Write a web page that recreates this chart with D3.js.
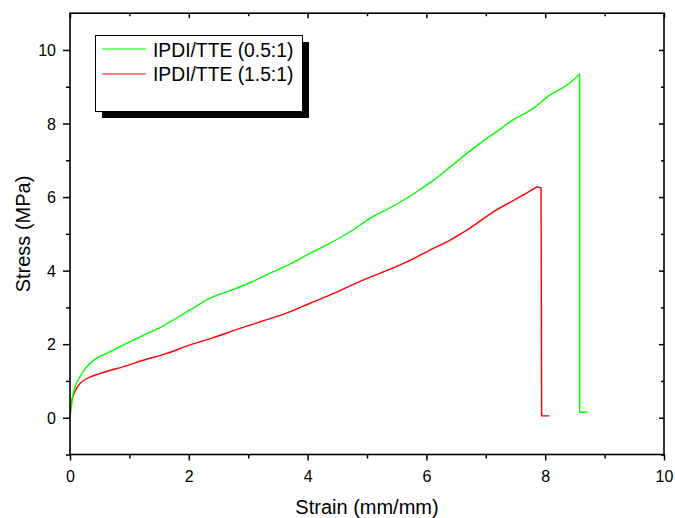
<!DOCTYPE html>
<html><head><meta charset="utf-8">
<script src="https://cdn.jsdelivr.net/npm/d3@7"></script>
<style>body{margin:0;background:#fff}svg{display:block}text{font-family:Arial,"Liberation Sans",sans-serif;fill:#000}</style>
</head><body><svg id="c" width="675" height="518"></svg>
<script>
const seriesNames = ["IPDI/TTE (0.5:1)", "IPDI/TTE (1.5:1)"];
const seriesColors = ["#00ff00", "#ff0000"];
const greenX = [0, 0.015, 0.03, 0.056, 0.1, 0.17, 0.25, 0.34, 0.45, 0.62, 0.9, 1.18, 1.57, 2.02, 2.36, 2.69, 3.0, 3.37, 3.7, 4.04, 4.38, 4.71, 5.05, 5.39, 5.75, 6.12, 6.5, 6.9, 7.2, 7.46, 7.8, 8.08, 8.25, 8.45, 8.58, 8.58, 8.71];
const greenY = [0, 0.2, 0.38, 0.66, 0.9, 1.12, 1.32, 1.48, 1.62, 1.75, 1.98, 2.2, 2.5, 2.93, 3.25, 3.45, 3.65, 3.93, 4.18, 4.47, 4.75, 5.05, 5.42, 5.71, 6.05, 6.46, 6.95, 7.46, 7.8, 8.1, 8.41, 8.78, 8.93, 9.15, 9.35, 0.15, 0.15];
const redX = [0, 0.01, 0.03, 0.07, 0.11, 0.18, 0.28, 0.5, 0.9, 1.25, 1.63, 2.02, 2.4, 2.86, 3.3, 3.7, 4.05, 4.38, 4.94, 5.39, 5.75, 6.06, 6.4, 6.68, 7.18, 7.58, 7.86, 7.93, 7.94, 8.07];
const redY = [0, 0.25, 0.48, 0.66, 0.8, 0.95, 1.06, 1.2, 1.39, 1.57, 1.75, 1.98, 2.17, 2.43, 2.66, 2.88, 3.12, 3.34, 3.75, 4.04, 4.3, 4.56, 4.83, 5.1, 5.65, 6.01, 6.28, 6.25, 0.05, 0.05];
const xMajorTicks = [0, 2, 4, 6, 8, 10];
const yMajorTicks = [0, 2, 4, 6, 8, 10];
const xMinorTicks = [1, 3, 5, 7, 9];
const yMinorTicks = [-1, 1, 3, 5, 7, 9];
const xTitle = "Strain (mm/mm)";
const yTitle = "Stress (MPa)";

const svg = d3.select("#c");
const L = 70, R = 664, T = 13.2, B = 454.5;
const x = d3.scaleLinear().domain([0, 10]).range([L, R]);
const y = d3.scaleLinear().domain([-1, 11]).range([B, T]);

const series = [
  {name: seriesNames[0], color: seriesColors[0], pts: greenX.map((v, i) => [v, greenY[i]])},
  {name: seriesNames[1], color: seriesColors[1], pts: redX.map((v, i) => [v, redY[i]])}
];
const smooth = d3.line().x(d => x(d[0])).y(d => y(d[1])).curve(d3.curveMonotoneX);
const straight = d3.line().x(d => x(d[0])).y(d => y(d[1]));
series.slice().reverse().forEach(s => {
  // rising part: up to the peak (max stress); then the fracture drop drawn straight
  let pk = d3.maxIndex(s.pts, d => d[1]);
  const rise = s.pts.slice(0, pk + 1);
  // keep strictly increasing x in the smooth part
  const drop = s.pts.slice(pk);
  const d = smooth(rise) + straight(drop).replace(/^M/, "L");
  svg.append("path").attr("d", d).attr("fill", "none")
    .attr("stroke", s.color).attr("stroke-width", 1.4).attr("stroke-linejoin", "round");
});

// axes
const ax = svg.append("g").attr("stroke", "#000").attr("stroke-width", 1.6).attr("fill", "none");
ax.append("rect").attr("x", L).attr("y", T).attr("width", R - L).attr("height", B - T);

const bottom = d3.axisBottom(x).tickValues(xMajorTicks).tickSize(6).tickFormat(d3.format("d"));
const gB = svg.append("g").attr("transform", `translate(0,${B})`).call(bottom);
svg.append("g").attr("transform", `translate(0,${B})`).call(d3.axisBottom(x).tickValues(xMinorTicks).tickSize(4).tickFormat(""));
const left = d3.axisLeft(y).tickValues(yMajorTicks).tickSize(7).tickFormat(d3.format("d"));
const gL = svg.append("g").attr("transform", `translate(${L},0)`).call(left);
svg.append("g").attr("transform", `translate(${L},0)`).call(d3.axisLeft(y).tickValues(yMinorTicks).tickSize(4).tickFormat(""));
// mirrored ticks
svg.append("g").attr("transform", `translate(0,${T})`).call(d3.axisBottom(x).tickValues(xMajorTicks).tickSize(5).tickFormat(""));
svg.append("g").attr("transform", `translate(0,${T})`).call(d3.axisBottom(x).tickValues(xMinorTicks).tickSize(3).tickFormat(""));
svg.append("g").attr("transform", `translate(${R},0)`).call(d3.axisLeft(y).tickValues(yMajorTicks).tickSize(5).tickFormat(""));
svg.append("g").attr("transform", `translate(${R},0)`).call(d3.axisLeft(y).tickValues(yMinorTicks).tickSize(3).tickFormat(""));
svg.selectAll(".domain").remove();
svg.selectAll(".tick line").attr("stroke", "#000").attr("stroke-width", 1.5);
gB.selectAll(".tick text").attr("font-size", 16).attr("font-family", "Arial, 'Liberation Sans', sans-serif").attr("dy", null).attr("y", 27.5);
gL.selectAll(".tick text").attr("font-size", 16).attr("font-family", "Arial, 'Liberation Sans', sans-serif").attr("x", -14).attr("dy", "0.36em");

svg.append("text").attr("x", (L + R) / 2).attr("y", 514).attr("text-anchor", "middle").attr("font-size", 20).text(xTitle);
svg.append("text").attr("transform", "translate(30,234) rotate(-90)").attr("text-anchor", "middle").attr("font-size", 20).text(yTitle);

// legend
const lg = svg.append("g");
lg.append("rect").attr("x", 102).attr("y", 42).attr("width", 207).attr("height", 76).attr("fill", "#000");
lg.append("rect").attr("x", 95.5).attr("y", 35.5).attr("width", 207).attr("height", 76).attr("fill", "#fff").attr("stroke", "#000").attr("stroke-width", 1);
series.forEach((s, i) => {
  const yy = 49 + i * 25;
  lg.append("line").attr("x1", 102).attr("x2", 146).attr("y1", yy).attr("y2", yy).attr("stroke", s.color).attr("stroke-width", 1.2);
  lg.append("text").attr("x", 153).attr("y", 57.3 + i * 23.4).attr("font-size", 19.3).text(s.name);
});
</script></body></html>
